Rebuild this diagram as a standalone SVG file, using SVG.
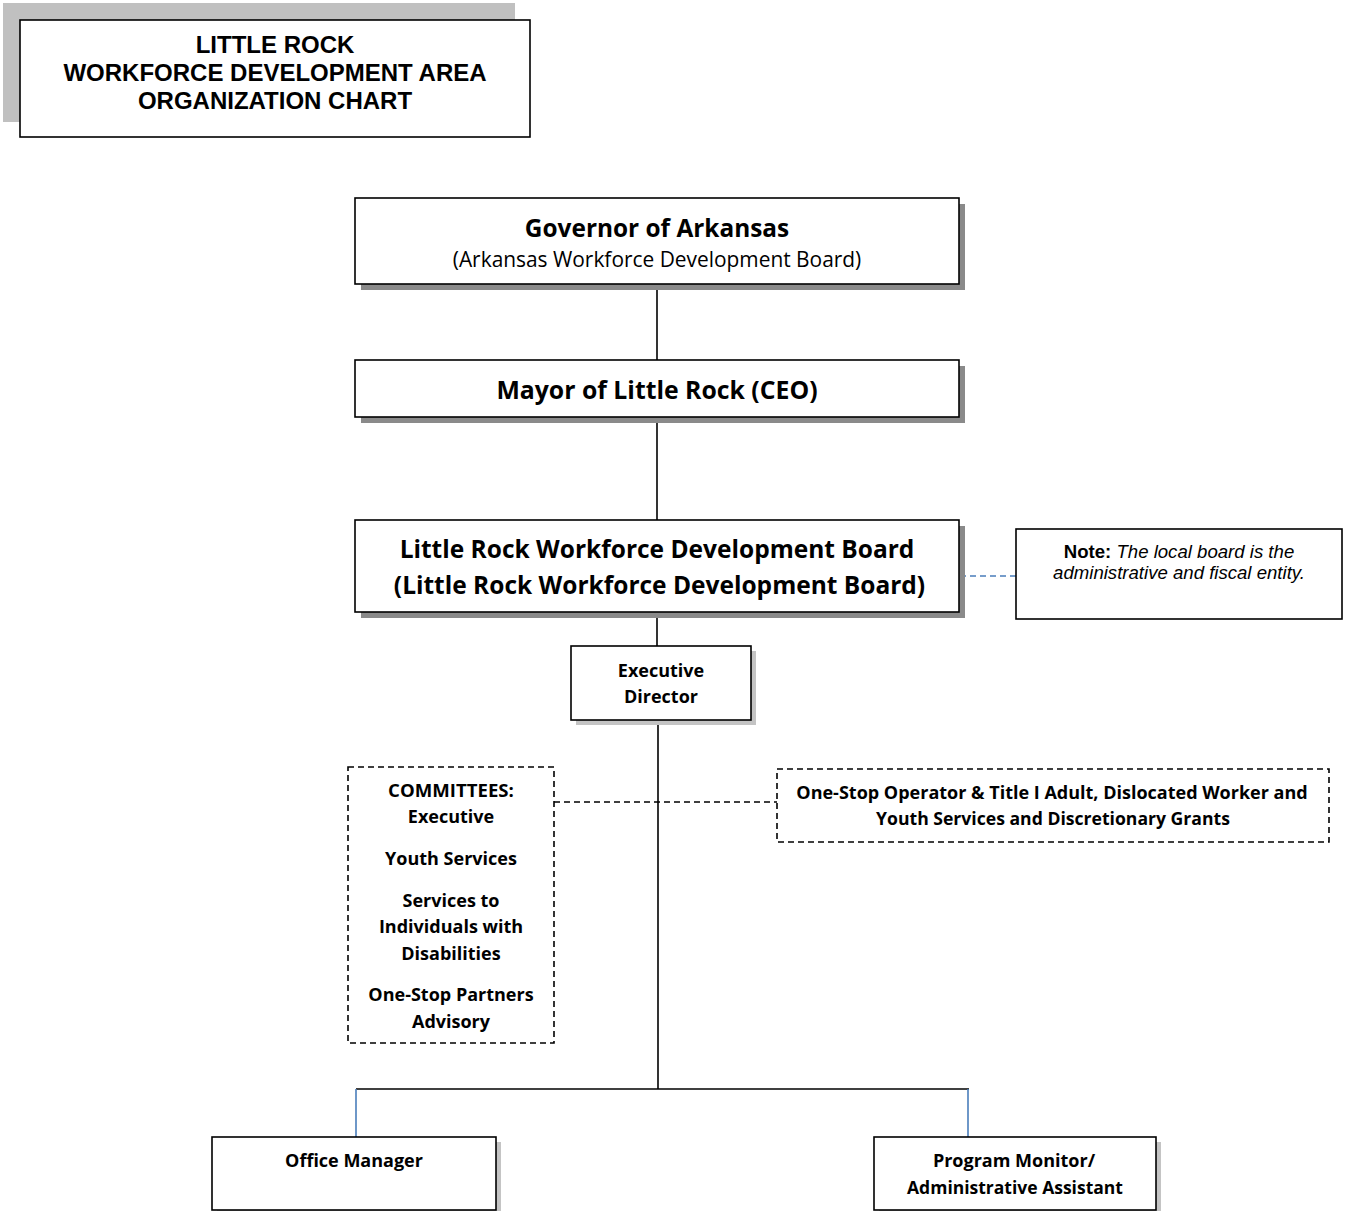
<svg xmlns="http://www.w3.org/2000/svg" width="1351" height="1211" viewBox="0 0 1351 1211">
<style>
.box{fill:#fff;stroke:#000;stroke-width:1.6}
.sd{fill:#8a8a8a}
.sl{fill:#c4c4c4}
.dbox{fill:#fff;stroke:#000;stroke-width:1.6;stroke-dasharray:6,4}
.ln{stroke:#000;stroke-width:1.6;fill:none}
.bl{stroke:#4a7ebb;stroke-width:1.6;fill:none}
.dl{stroke:#000;stroke-width:1.6;stroke-dasharray:6,4;fill:none}
.bdl{stroke:#4a7ebb;stroke-width:1.6;stroke-dasharray:6,4;fill:none}
text{text-anchor:middle;fill:#000}
.t{font-family:"Liberation Sans",Arial,sans-serif;font-weight:bold;font-size:24px}
.b{font-family:"Open Sans","Noto Sans",sans-serif;font-weight:bold}
.r{font-family:"Open Sans","Noto Sans",sans-serif}
.s{font-size:18px}
.n{font-family:"Liberation Sans",Arial,sans-serif;font-size:18.6px}
</style>
<g id="connectors">
<line class="ln" x1="657" y1="284" x2="657" y2="360"/>
<line class="ln" x1="657" y1="417" x2="657" y2="520"/>
<line class="ln" x1="657" y1="612" x2="657" y2="646"/>
<line class="ln" x1="658" y1="720" x2="658" y2="1089"/>
<line class="bdl" x1="960" y1="576" x2="1016" y2="576"/>
<line class="dl" x1="554" y1="802" x2="777" y2="802"/>
<line class="ln" x1="356" y1="1089" x2="969" y2="1089"/>
<line class="bl" x1="356" y1="1089" x2="356" y2="1137"/>
<line class="bl" x1="968" y1="1089" x2="968" y2="1137"/>
</g>
<g id="title">
<rect x="3" y="3" width="512" height="119" fill="#c0c0c0"/>
<rect class="box" x="20" y="20" width="510" height="117"/>
<text class="t" x="275" y="53">LITTLE ROCK</text>
<text class="t" x="275" y="81">WORKFORCE DEVELOPMENT AREA</text>
<text class="t" x="275" y="109">ORGANIZATION CHART</text>
</g>
<g id="governor">
<rect class="sd" x="361" y="204" width="604" height="86"/>
<rect class="box" x="355" y="198" width="604" height="86"/>
<text class="b" x="657" y="237" font-size="24.4">Governor of Arkansas</text>
<text class="r" x="657" y="267" font-size="20.9">(Arkansas Workforce Development Board)</text>
</g>
<g id="mayor">
<rect class="sd" x="361" y="366" width="604" height="57"/>
<rect class="box" x="355" y="360" width="604" height="57"/>
<text class="b" x="657" y="399" font-size="24.8">Mayor of Little Rock (CEO)</text>
</g>
<g id="lrwdb">
<rect class="sd" x="361" y="526" width="604" height="92"/>
<rect class="box" x="355" y="520" width="604" height="92"/>
<text class="b" x="657" y="558" font-size="24.5">Little Rock Workforce Development Board</text>
<text class="b" x="659.5" y="594" font-size="24.5">(Little Rock Workforce Development Board)</text>
</g>
<g id="note">
<rect class="box" x="1016" y="529" width="326" height="90"/>
<text class="n" x="1179" y="558"><tspan font-weight="bold">Note:</tspan><tspan font-style="italic"> The local board is the</tspan></text>
<text class="n" x="1179" y="579" font-style="italic">administrative and fiscal entity.</text>
</g>
<g id="executive-director">
<rect class="sl" x="576" y="651" width="180" height="74"/>
<rect class="box" x="571" y="646" width="180" height="74"/>
<text class="b s" x="661" y="677">Executive</text>
<text class="b s" x="661" y="703">Director</text>
</g>
<g id="committees">
<rect class="dbox" x="348" y="767" width="206" height="276"/>
<text class="b" x="451" y="797" font-size="18.6">COMMITTEES:</text>
<text class="b s" x="451" y="823">Executive</text>
<text class="b s" x="451" y="865">Youth Services</text>
<text class="b s" x="451" y="907">Services to</text>
<text class="b s" x="451" y="933">Individuals with</text>
<text class="b s" x="451" y="960">Disabilities</text>
<text class="b s" x="451" y="1001">One-Stop Partners</text>
<text class="b s" x="451" y="1028">Advisory</text>
</g>
<g id="one-stop">
<rect class="dbox" x="777" y="769" width="552" height="73"/>
<text class="b s" x="1052" y="799">One-Stop Operator &amp; Title I Adult, Dislocated Worker and</text>
<text class="b" x="1053" y="825" font-size="17.6">Youth Services and Discretionary Grants</text>
</g>
<g id="office-manager">
<rect class="sl" x="217" y="1142" width="284" height="73"/>
<rect class="box" x="212" y="1137" width="284" height="73"/>
<text class="b s" x="354" y="1167">Office Manager</text>
</g>
<g id="program-monitor">
<rect class="sl" x="879" y="1142" width="282" height="73"/>
<rect class="box" x="874" y="1137" width="282" height="73"/>
<text class="b s" x="1014" y="1167">Program Monitor/</text>
<text class="b" x="1015" y="1194" font-size="17.5">Administrative Assistant</text>
</g>
</svg>
